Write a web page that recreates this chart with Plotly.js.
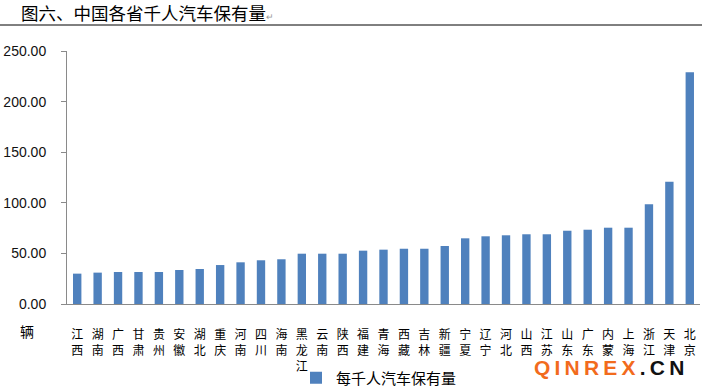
<!DOCTYPE html>
<html>
<head>
<meta charset="utf-8">
<script src="https://cdn.plot.ly/plotly-3.0.1.min.js"></script>
<style>html,body{margin:0;padding:0;background:#fff;}#chart{width:702px;height:388px;}</style>
</head>
<body>
<div id="chart"></div>
<script>
const provinces = ["江西","湖南","广西","甘肃","贵州","安徽","湖北","重庆","河南","四川","海南","黑龙江","云南","陕西","福建","青海","西藏","吉林","新疆","宁夏","辽宁","河北","山西","江苏","山东","广东","内蒙","上海","浙江","天津","北京"];
const carsPerThousand = [30.0,31.0,31.6,31.6,31.6,33.6,34.6,38.5,41.2,43.2,44.2,49.7,49.7,49.7,52.7,53.7,54.6,54.6,57.3,64.9,66.9,67.9,68.9,68.9,72.4,73.4,75.4,75.4,98.5,120.8,229.0];
const seriesName = "每千人汽车保有量";
const yTicks = [0,50,100,150,200,250];
const chartTitle = "图六、中国各省千人汽车保有量";
const unitLabel = "辆";

const W = 702, H = 388, L = 67, R = 2, T = 51, B = 84;
const pw = W - L - R, ph = H - T - B;
const px = x => (x - L) / pw;
const py = y => (H - B - y) / ph;

const cjk = '"Noto Sans CJK SC", "Noto Sans", sans-serif';

const trace = {
  type: 'bar',
  x: provinces,
  y: carsPerThousand,
  name: seriesName,
  marker: {color: '#4f81bd'},
  showlegend: true
};

const layout = {
  width: W, height: H,
  margin: {l: L, r: R, t: T, b: B, pad: 0, autoexpand: false},
  paper_bgcolor: '#fff', plot_bgcolor: '#fff',
  bargap: 0.59,
  font: {family: cjk, color: '#000'},
  xaxis: {
    type: 'category',
    tickmode: 'array',
    tickvals: provinces,
    ticktext: provinces.map(p => p.split('').join('<br>')),
    tickangle: 0,
    tickfont: {family: cjk, size: 12, color: '#000'},
    showline: true, linecolor: '#8a8a8a', linewidth: 1,
    ticks: '', showgrid: false, zeroline: false,
    ticklabelstandoff: 20,
    automargin: false,
    fixedrange: true
  },
  yaxis: {
    range: [0, 250],
    tickmode: 'array',
    tickvals: yTicks,
    ticktext: yTicks.map(v => v.toFixed(2)),
    tickfont: {family: '"Liberation Sans", Arial, sans-serif', size: 14, color: '#111'},
    showline: true, linecolor: '#8a8a8a', linewidth: 1,
    ticks: 'outside', ticklen: 5, tickcolor: '#8a8a8a',
    showgrid: false, zeroline: false,
    ticklabelstandoff: 12,
    automargin: false,
    fixedrange: true
  },
  legend: {
    orientation: 'h',
    x: px(296), xanchor: 'left',
    y: py(378), yanchor: 'middle',
    font: {family: cjk, size: 15, color: '#000'},
    itemwidth: 30,
    bgcolor: 'rgba(0,0,0,0)'
  },
  shapes: [
    {type: 'line', xref: 'paper', yref: 'paper', x0: px(0), x1: px(702), y0: py(25), y1: py(25),
     line: {color: '#000', width: 1}}
  ],
  annotations: [
    {xref: 'paper', yref: 'paper', x: px(19), y: py(12), xanchor: 'left', yanchor: 'middle',
     text: chartTitle + '<span style="font-size:9px;color:#999">↵</span>', showarrow: false,
     font: {family: cjk, size: 17.5, color: '#000'}},
    {xref: 'paper', yref: 'paper', x: px(27), y: py(331), xanchor: 'center', yanchor: 'middle',
     text: unitLabel, showarrow: false, font: {family: cjk, size: 14, color: '#000'}},
    {xref: 'paper', yref: 'paper', x: px(609), y: py(367), xanchor: 'center', yanchor: 'middle',
     text: '<span style="color:#f26b1d">Q\u2009I\u2009N\u2009R\u2009E\u2009X</span>\u2009.\u2009C\u2009N',
     showarrow: false,
     font: {family: '"Liberation Sans", Arial, sans-serif', size: 21, color: '#111', weight: 'bold'}}
  ]
};

Plotly.newPlot('chart', [trace], layout, {displayModeBar: false, staticPlot: true});
</script>
</body>
</html>
